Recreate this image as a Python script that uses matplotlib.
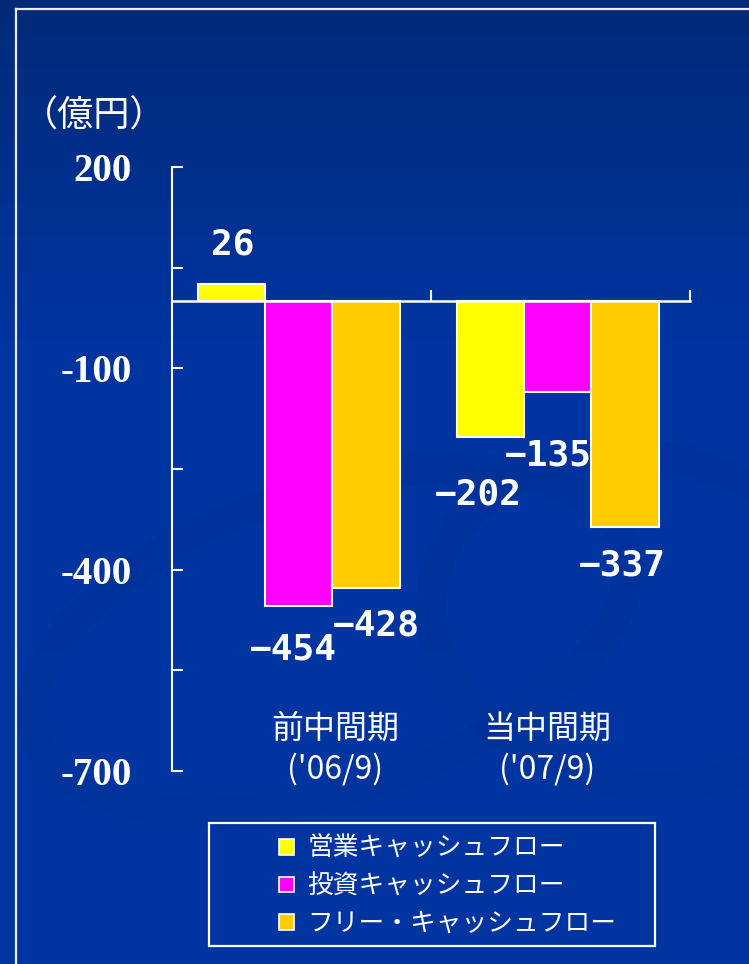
import matplotlib
matplotlib.use("Agg")
import matplotlib.pyplot as plt
import numpy as np
from matplotlib.colors import LinearSegmentedColormap
from matplotlib.lines import Line2D
from matplotlib.patches import Rectangle, Ellipse

plt.rcParams["font.family"] = ["Noto Sans CJK JP", "DejaVu Sans"]

# data
periods = ["前中間期\n('06/9)", "当中間期\n('07/9)"]
series_names = ["営業キャッシュフロー", "投資キャッシュフロー", "フリー・キャッシュフロー"]
operating_cf = [26, -202]
investing_cf = [-454, -135]
free_cf = [-428, -337]
y_ticks = [200, 50, -100, -250, -400, -550, -700]
y_tick_labels = ["200", "", "-100", "", "-400", "", "-700"]
unit_label = "（億円）"

series = [operating_cf, investing_cf, free_cf]
colors = ["#ffff00", "#ff00ff", "#ffcc00"]
# label offsets in pixels (dx, dy) relative to bar end
label_offsets = [
    [(1, 22), (-12, -41)],
    [(-6, -27), (-10, -47)],
    [(10, -20), (-3, -21)],
]
period_label_shift = [0.13, -0.05]

W, H = 749, 964
fig = plt.figure(figsize=(W / 100, H / 100), dpi=100)

# background gradient
bg = fig.add_axes([0, 0, 1, 1], zorder=-10)
cmap = LinearSegmentedColormap.from_list(
    "bg", [(0.0, "#022a78"), (0.35, "#0034a0"), (1.0, "#0036a2")]
)
grad = np.linspace(0, 1, 256).reshape(-1, 1)
bg.imshow(grad, aspect="auto", cmap=cmap, extent=(0, W, H, 0))
# faint swirl decoration
for (cx, cy, ew, eh, ang) in [(330, 640, 620, 300, -18), (640, 620, 420, 330, 10)]:
    bg.add_patch(Ellipse((cx, cy), ew, eh, angle=ang, fill=False,
                         edgecolor="#002e8c", linewidth=22, alpha=0.22))
bg.set_xlim(0, W)
bg.set_ylim(H, 0)
bg.axis("off")

# white frame line
fig.add_artist(Line2D([16 / W, 16 / W], [0, 1 - 9 / H], transform=fig.transFigure,
                      color="#e8eef8", linewidth=1.6))
fig.add_artist(Line2D([16 / W, 1], [1 - 9 / H, 1 - 9 / H], transform=fig.transFigure,
                      color="#e8eef8", linewidth=1.6))

ax = fig.add_axes([172 / W, 1 - 771 / H, (690 - 172) / W, (771 - 167) / H])
ax.set_facecolor("none")

x = np.arange(len(periods))
width = 0.259
for i, (vals, color) in enumerate(zip(series, colors)):
    pos = x + (i - 1) * width - 0.01
    ax.bar(pos, vals, width, color=color, edgecolor="white", linewidth=1.5, zorder=3)
    for j, v in enumerate(vals):
        dx, dy = label_offsets[i][j]
        ax.annotate(str(v).replace("-", "\u2212"), (pos[j], v),
                    xytext=(dx, dy), textcoords="offset pixels",
                    ha="center", va="bottom" if v > 0 else "top",
                    color="white", fontsize=26, fontweight="bold",
                    family="DejaVu Sans Mono", zorder=4)

ax.set_xlim(-0.5, 1.5)
ax.set_ylim(-700, 200)

ax.spines["top"].set_visible(False)
ax.spines["right"].set_visible(False)
ax.spines["left"].set_color("white")
ax.spines["left"].set_linewidth(1.5)
ax.spines["bottom"].set_position(("data", 0))
ax.spines["bottom"].set_color("white")
ax.spines["bottom"].set_linewidth(1.8)
ax.spines["bottom"].set_zorder(5)

ax.set_yticks(y_ticks)
ax.set_yticklabels(y_tick_labels, family="Liberation Serif", fontweight="bold",
                   fontsize=28, color="white")
ax.tick_params(axis="y", direction="in", length=8, width=1.5, color="white", pad=29)
ax.set_xticks([0.5, 1.5])
ax.set_xticklabels([])
ax.tick_params(axis="x", direction="in", length=8, width=1.5, color="white")

for j, label in enumerate(periods):
    ax.text(x[j] + period_label_shift[j], 0.097, label, transform=ax.get_xaxis_transform(),
            ha="center", va="top", color="white", fontsize=23, linespacing=1.3)

fig.text(22 / W, 1 - 117 / H, unit_label, ha="left", va="center",
         color="white", fontsize=26)

# legend
fig.add_artist(Rectangle((209 / W, 1 - 946 / H), (655 - 209) / W, (946 - 823) / H,
                         transform=fig.transFigure, fill=False,
                         edgecolor="white", linewidth=1.6))
handles = [Rectangle((0, 0), 1, 1, facecolor=c, edgecolor="white", linewidth=1.2)
           for c in colors]
leg = fig.legend(handles, series_names, loc="upper left",
                 bbox_to_anchor=(279 / W, 1 - 836 / H), frameon=False,
                 fontsize=18.5, labelcolor="white", handlelength=0.58,
                 handleheight=0.58, handletextpad=0.52, labelspacing=0.45,
                 borderpad=0, borderaxespad=0)

fig.savefig("out.png", dpi=100, facecolor="#0034a0")
